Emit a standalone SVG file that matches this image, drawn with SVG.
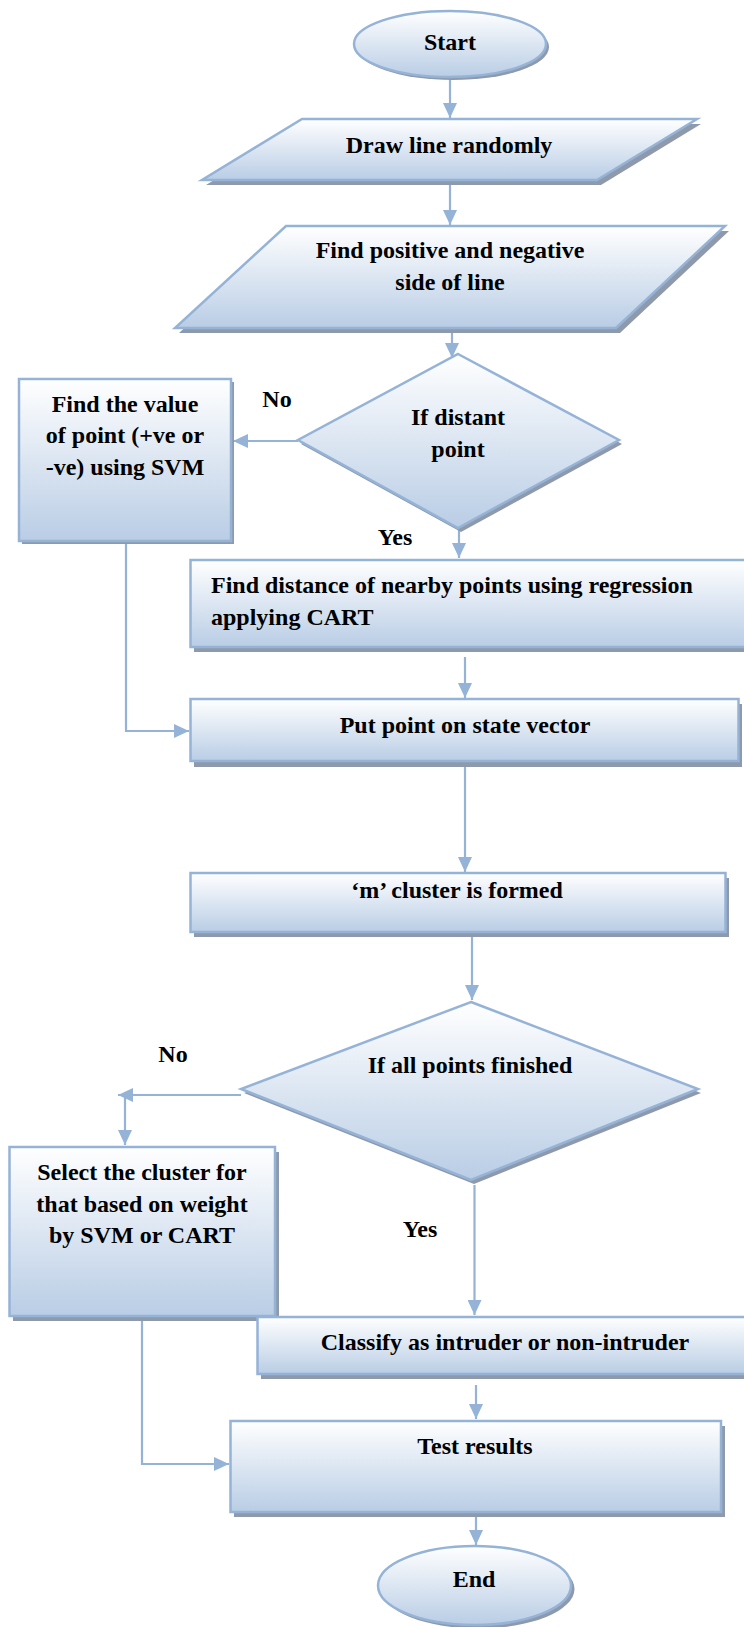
<svg xmlns="http://www.w3.org/2000/svg" width="744" height="1627" viewBox="0 0 744 1627">
<defs>
<linearGradient id="g" x1="0" y1="0" x2="0" y2="1">
<stop offset="0" stop-color="#FFFFFF"/>
<stop offset="1" stop-color="#B9CDE5"/>
</linearGradient>
<marker id="ah" markerUnits="userSpaceOnUse" markerWidth="16" markerHeight="14" refX="15" refY="7" orient="auto">
<path d="M0,0 L15,7 L0,14 z" fill="#95B3D7"/>
</marker>
<style>
.sh{fill:#8E9AAC;stroke:none}
.nd{fill:url(#g);stroke:#95B3D7;stroke-width:2.5}
.t{font-family:"Liberation Serif","Times New Roman",serif;font-weight:bold;font-size:24px;fill:#000}
.c{fill:none;stroke:#95B3D7;stroke-width:2.2}
.m{text-anchor:middle}
</style>
</defs>

<g id="connectors">
<line class="c" x1="450" y1="78" x2="450" y2="118" marker-end="url(#ah)"/>
<line class="c" x1="450" y1="182" x2="450" y2="225" marker-end="url(#ah)"/>
<line class="c" x1="452" y1="330" x2="452" y2="358" marker-end="url(#ah)"/>
<line class="c" x1="298" y1="441" x2="233" y2="441" marker-end="url(#ah)"/>
<line class="c" x1="459" y1="530" x2="459" y2="558" marker-end="url(#ah)"/>
<line class="c" x1="465" y1="657" x2="465" y2="698" marker-end="url(#ah)"/>
<polyline class="c" points="126,503 126,731 189,731" marker-end="url(#ah)"/>
<line class="c" x1="465" y1="762" x2="465" y2="872" marker-end="url(#ah)"/>
<line class="c" x1="472" y1="932" x2="472" y2="1000" marker-end="url(#ah)"/>
<line class="c" x1="241" y1="1095" x2="118" y2="1095" marker-end="url(#ah)"/>
<line class="c" x1="125" y1="1097" x2="125" y2="1145" marker-end="url(#ah)"/>
<line class="c" x1="474.5" y1="1185" x2="474.5" y2="1315" marker-end="url(#ah)"/>
<line class="c" x1="476" y1="1385" x2="476" y2="1419" marker-end="url(#ah)"/>
<polyline class="c" points="142,1316 142,1464 229,1464" marker-end="url(#ah)"/>
<line class="c" x1="476" y1="1512" x2="476" y2="1545" marker-end="url(#ah)"/>
</g>

<g id="start">
<ellipse class="sh" cx="453" cy="47" rx="96" ry="33"/>
<ellipse class="nd" cx="450" cy="44" rx="96" ry="33"/>
<text class="t m" x="450" y="50">Start</text>
</g>

<g id="draw-line">
<polygon class="sh" points="306,124 701,124 601,185 206,185"/>
<polygon class="nd" points="302,119 697,119 597,180 202,180"/>
<text class="t m" x="449" y="153">Draw line randomly</text>
</g>

<g id="find-sides">
<polygon class="sh" points="290,231 729,231 620,333 179,333"/>
<polygon class="nd" points="286,226 725,226 616,328 175,328"/>
<text class="t m" x="450" y="258">Find positive and negative</text>
<text class="t m" x="450" y="290">side of line</text>
</g>

<g id="if-distant">
<polygon class="sh" points="461,358 622,444 461,532 301,444"/>
<polygon class="nd" points="458,354 619,440 458,528 298,440"/>
<text class="t m" x="458" y="425">If distant</text>
<text class="t m" x="458" y="457">point</text>
</g>

<g id="find-value">
<rect class="sh" x="22" y="382" width="212" height="162"/>
<rect class="nd" x="19" y="379" width="212" height="162"/>
<text class="t m" x="125" y="412">Find the value</text>
<text class="t m" x="125" y="443">of point (+ve or</text>
<text class="t m" x="125" y="475">-ve) using SVM</text>
</g>

<g id="find-distance">
<rect class="sh" x="194" y="565" width="570" height="87"/>
<rect class="nd" x="190.5" y="560" width="570" height="87"/>
<text class="t" x="211" y="593">Find distance of nearby points using regression</text>
<text class="t" x="211" y="625">applying CART</text>
</g>

<g id="put-point">
<rect class="sh" x="194" y="704" width="548" height="63"/>
<rect class="nd" x="190.5" y="699" width="548" height="62"/>
<text class="t m" x="465" y="733">Put point on state vector</text>
</g>

<g id="m-cluster">
<rect class="sh" x="194" y="878" width="535" height="59"/>
<rect class="nd" x="190.5" y="873" width="535" height="59"/>
<text class="t m" x="457" y="898">‘m’ cluster is formed</text>
</g>

<g id="if-finished">
<polygon class="sh" points="474,1006 701,1093 474,1184 244,1093"/>
<polygon class="nd" points="471,1002 698,1089 471,1180 241,1089"/>
<text class="t m" x="470" y="1073">If all points finished</text>
</g>

<g id="select-cluster">
<rect class="sh" x="13" y="1152" width="266" height="169"/>
<rect class="nd" x="9.5" y="1147" width="265.5" height="169"/>
<text class="t m" x="142" y="1180">Select the cluster for</text>
<text class="t m" x="142" y="1212">that based on weight</text>
<text class="t m" x="142" y="1243">by SVM or CART</text>
</g>

<g id="classify">
<rect class="sh" x="261" y="1322" width="500" height="57"/>
<rect class="nd" x="257.5" y="1317" width="500" height="57"/>
<text class="t m" x="505" y="1350">Classify as intruder or non-intruder</text>
</g>

<g id="test-results">
<rect class="sh" x="234" y="1426" width="491" height="91"/>
<rect class="nd" x="230.5" y="1421" width="490.5" height="91"/>
<text class="t m" x="475" y="1454">Test results</text>
</g>

<g id="end">
<ellipse class="sh" cx="478" cy="1589" rx="96.5" ry="39.5"/>
<ellipse class="nd" cx="474.5" cy="1585.5" rx="96.5" ry="39.5"/>
<text class="t m" x="474" y="1587">End</text>
</g>

<g id="labels">
<text class="t m" x="277" y="407">No</text>
<text class="t m" x="395" y="545">Yes</text>
<text class="t m" x="173" y="1062">No</text>
<text class="t m" x="420" y="1237">Yes</text>
</g>
</svg>
